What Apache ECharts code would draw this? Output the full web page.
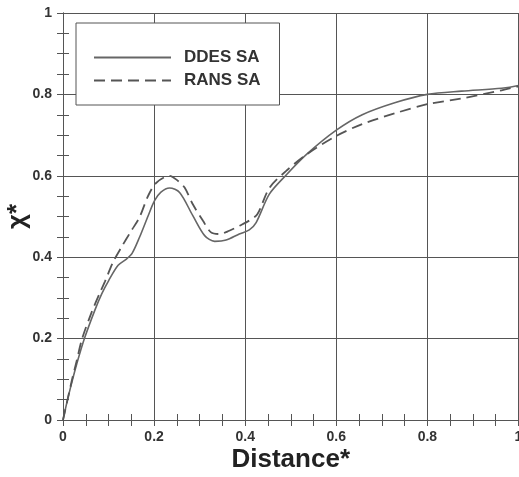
<!DOCTYPE html>
<html>
<head>
<meta charset="utf-8">
<style>
  html, body { margin: 0; padding: 0; background: #fff; }
  #chart { width: 519px; height: 477px; }
</style>
<script src="https://cdn.jsdelivr.net/npm/echarts@6/dist/echarts.min.js"></script>
</head>
<body>
<div id="chart"></div>
<script>
// Streamwise distribution of chi* along the normalised distance
const ddesX = [0, 0.01, 0.02, 0.03, 0.047, 0.07, 0.085, 0.1, 0.121, 0.14, 0.152, 0.168, 0.187, 0.201, 0.215, 0.234, 0.256, 0.285, 0.311, 0.333, 0.358, 0.387, 0.409, 0.424, 0.453, 0.49, 0.534, 0.6, 0.657, 0.73, 0.8, 0.875, 0.963, 1.0];
const ddesY = [0, 0.05, 0.095, 0.137, 0.2, 0.27, 0.31, 0.342, 0.38, 0.396, 0.41, 0.449, 0.502, 0.539, 0.56, 0.57, 0.559, 0.502, 0.453, 0.439, 0.442, 0.457, 0.467, 0.485, 0.555, 0.602, 0.652, 0.712, 0.75, 0.78, 0.8, 0.808, 0.815, 0.822];

const ransX = [0, 0.01, 0.02, 0.03, 0.042, 0.063, 0.08, 0.092, 0.11, 0.128, 0.15, 0.168, 0.187, 0.205, 0.234, 0.252, 0.267, 0.285, 0.307, 0.325, 0.344, 0.365, 0.387, 0.409, 0.427, 0.453, 0.49, 0.534, 0.6, 0.657, 0.73, 0.8, 0.875, 0.963, 1.0];
const ransY = [0, 0.05, 0.1, 0.145, 0.2, 0.265, 0.31, 0.34, 0.388, 0.424, 0.465, 0.498, 0.551, 0.583, 0.6, 0.588, 0.571, 0.53, 0.49, 0.461, 0.457, 0.465, 0.477, 0.49, 0.506, 0.57, 0.612, 0.652, 0.698, 0.727, 0.754, 0.776, 0.79, 0.81, 0.82];

const seriesNames = ['DDES SA', 'RANS SA'];

const pairs = (xs, ys) => xs.map((x, i) => [x, ys[i]]);

const labelFont = { fontFamily: '"Liberation Sans", Arial, sans-serif', fontWeight: 'bold', fontSize: 14, color: '#333' };
const lineCol = '#555';

function frameAxis(extra) {
  return Object.assign({
    type: 'value', min: 0, max: 1, interval: 0.2,
    axisLine: { show: true, lineStyle: { color: lineCol, width: 1 } },
    axisTick: { show: true, inside: true, length: 6, lineStyle: { color: lineCol } },
    minorTick: { show: true, splitNumber: 4, length: 6, lineStyle: { color: lineCol } },
    splitLine: { show: false },
    axisLabel: { show: false }
  }, extra);
}

const chart = echarts.init(document.getElementById('chart'), null, { renderer: 'canvas' });
chart.setOption({
  backgroundColor: '#fff',
  animation: false,
  grid: { left: 63, right: 0.5, top: 13, bottom: 57, containLabel: false, outerBoundsMode: 'none' },
  legend: {
    orient: 'vertical',
    left: 76, top: 23,
    padding: [26, 19, 16, 17],
    itemWidth: 77, itemHeight: 14, itemGap: 6,
    backgroundColor: '#fff',
    borderColor: lineCol, borderWidth: 1, borderRadius: 0,
    itemStyle: { opacity: 0 },
    data: seriesNames,
    textStyle: { fontFamily: '"Liberation Sans", Arial, sans-serif', fontWeight: 'bold', fontSize: 17, color: '#333', lineHeight: 14, padding: [0, 0, 0, 8] }
  },
  xAxis: [
    frameAxis({
      position: 'bottom',
      splitLine: { show: true, lineStyle: { color: lineCol, width: 1 } },
      axisLabel: Object.assign({ show: true, margin: 10 }, labelFont),
      name: 'Distance*', nameLocation: 'middle', nameGap: 27, nameMoveOverlap: false,
      nameTextStyle: { fontFamily: '"Liberation Sans", Arial, sans-serif', fontWeight: 'bold', fontSize: 26, color: '#222' }
    }),
    frameAxis({ position: 'top' })
  ],
  yAxis: [
    frameAxis({
      position: 'left',
      splitLine: { show: true, lineStyle: { color: lineCol, width: 1 } },
      axisLabel: Object.assign({ show: true, margin: 11 }, labelFont),
      name: 'χ*', nameLocation: 'middle', nameRotate: 90, nameGap: 32, nameMoveOverlap: false,
      nameTextStyle: { fontFamily: '"Liberation Sans", Arial, sans-serif', fontWeight: 'bold', fontSize: 26, color: '#222' }
    }),
    frameAxis({ position: 'right' })
  ],
  series: [
    {
      name: seriesNames[0], type: 'line', xAxisIndex: 0, yAxisIndex: 0,
      data: pairs(ddesX, ddesY), smooth: 0.3, symbol: 'none',
      lineStyle: { color: '#666', width: 1.6, type: 'solid' },
      itemStyle: { color: '#666' }
    },
    {
      name: seriesNames[1], type: 'line', xAxisIndex: 0, yAxisIndex: 0,
      data: pairs(ransX, ransY), smooth: 0.3, symbol: 'none',
      lineStyle: { color: '#555', width: 1.8, type: [11, 6] },
      itemStyle: { color: '#555' }
    }
  ]
});
</script>
</body>
</html>
